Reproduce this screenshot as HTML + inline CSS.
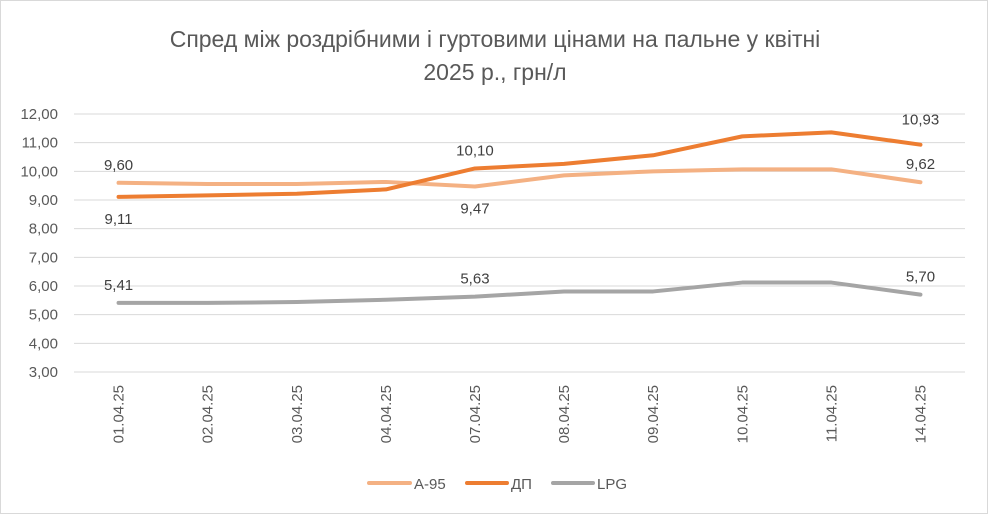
<!DOCTYPE html>
<html><head><meta charset="utf-8"><style>
body{margin:0;background:#fff}
svg{display:block;font-family:"Liberation Sans",sans-serif}
</style></head><body>
<svg id="chart" width="988" height="514">
<rect x="0.5" y="0.5" width="987" height="513" fill="#fff" stroke="#d9d9d9"/>
<text x="495" y="47" text-anchor="middle" font-size="23" fill="#595959">Спред між роздрібними і гуртовими цінами на пальне у квітні</text>
<text x="495" y="80" text-anchor="middle" font-size="23" fill="#595959">2025 р., грн/л</text>
<g id="grid"></g><g id="xlabels"></g><g id="lines"></g><g id="vals"></g>
<g>
<line x1="369" y1="483" x2="410" y2="483" stroke="#f4b183" stroke-width="4" stroke-linecap="round"/>
<text x="414" y="489" font-size="15" fill="#595959">А-95</text>
<line x1="467" y1="483" x2="507" y2="483" stroke="#ed7d31" stroke-width="4" stroke-linecap="round"/>
<text x="511" y="489" font-size="15" fill="#595959">ДП</text>
<line x1="553" y1="483" x2="593" y2="483" stroke="#a5a5a5" stroke-width="4" stroke-linecap="round"/>
<text x="597" y="489" font-size="15" fill="#595959">LPG</text>
</g>
</svg>
<script>
const categories=["01.04.25","02.04.25","03.04.25","04.04.25","07.04.25","08.04.25","09.04.25","10.04.25","11.04.25","14.04.25"];
const a95=[9.60,9.56,9.56,9.63,9.47,9.86,10.00,10.07,10.07,9.62];
const dp=[9.11,9.16,9.22,9.37,10.10,10.26,10.56,11.22,11.36,10.93];
const lpg=[5.41,5.41,5.44,5.52,5.63,5.81,5.81,6.12,6.12,5.70];
const yTicks=[3,4,5,6,7,8,9,10,11,12];
const NS="http://www.w3.org/2000/svg";
const L=74,R=965,T=114,B=372,yMin=3,yMax=12;
const bw=(R-L)/categories.length;
const xS=i=>L+bw*(i+0.5);
const yS=v=>B-(v-yMin)/(yMax-yMin)*(B-T);
const fmt=v=>v.toFixed(2).replace('.',',');
function mk(tag,attrs,parent){const e=document.createElementNS(NS,tag);for(const k in attrs)e.setAttribute(k,attrs[k]);parent.appendChild(e);return e;}
const grid=document.getElementById('grid');
yTicks.forEach(t=>{
 const l=mk('line',{x1:L,x2:R,y1:yS(t),y2:yS(t),stroke:'#d9d9d9','stroke-width':1},grid);
 
 
 const tx=mk('text',{x:58,y:yS(t)+5,'text-anchor':'end','font-size':15,fill:'#595959'},grid);
 tx.textContent=fmt(t);
 
 
});
const xl=document.getElementById('xlabels');
categories.forEach((c,i)=>{
 const tx=mk('text',{x:0,y:0,'text-anchor':'end','font-size':15,fill:'#595959',transform:`translate(${xS(i)+5},385) rotate(-90)`},xl);
 tx.textContent=c;
 
 
});
const lines=document.getElementById('lines');
[[a95,'#f4b183','series-a95'],[dp,'#ed7d31','series-dp'],[lpg,'#a5a5a5','series-lpg']].forEach(([d,c,n])=>{
 const p=mk('polyline',{points:d.map((v,i)=>xS(i)+','+yS(v)).join(' '),fill:'none',stroke:c,'stroke-width':4,'stroke-linejoin':'round','stroke-linecap':'round'},lines);
 
 
});
const vals=document.getElementById('vals');
const labelIdx=[0,4,9];
function lab(d,i,dy){
 const tx=mk('text',{x:xS(i),y:yS(d[i])+dy,'text-anchor':'middle','font-size':15,fill:'#404040'},vals);
 tx.textContent=fmt(d[i]);
 
 
}
labelIdx.forEach((i,k)=>{
 const last=k===labelIdx.length-1;
 if(last){
  lab(a95,i,-13);
  lab(dp,i,-20);
 } else {
  const aAbove=a95[i]>=dp[i];
  lab(a95,i,aAbove?-13:27);
  lab(dp,i,aAbove?27:-13);
 }
 lab(lpg,i,-13);
});
</script>
</body></html>
